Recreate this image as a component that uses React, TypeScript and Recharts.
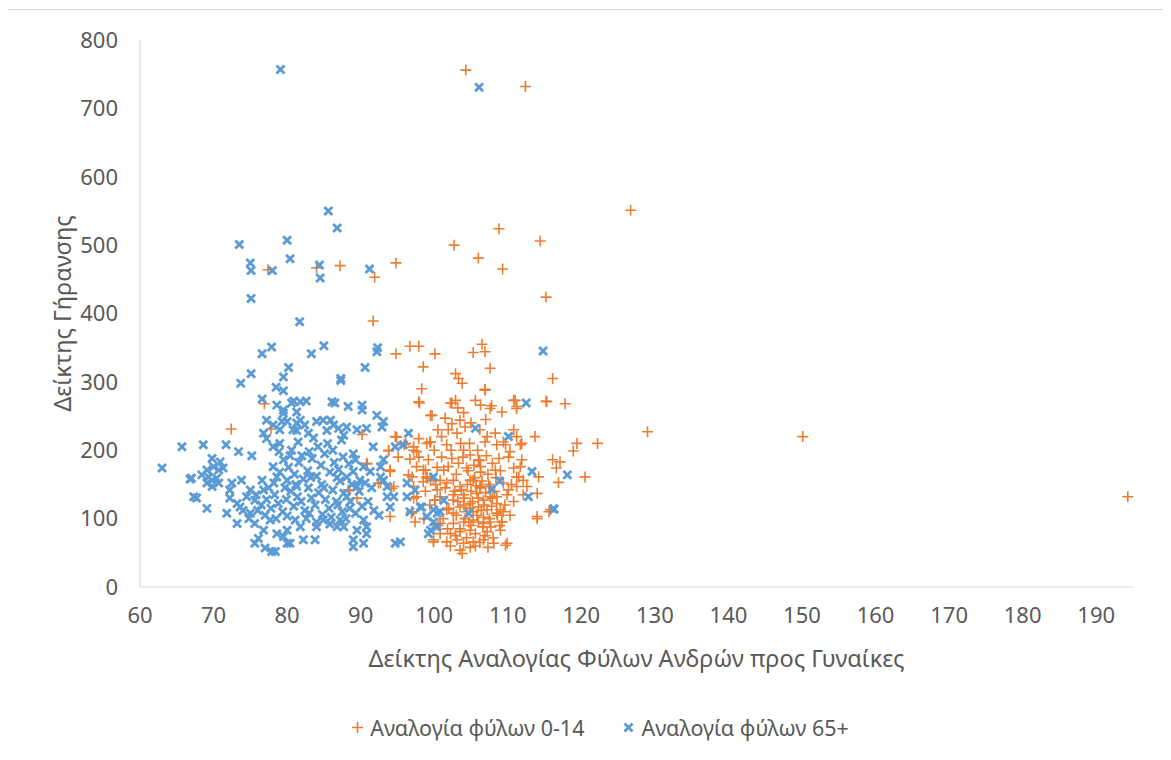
import React from 'react';
import { ScatterChart, Scatter, XAxis, YAxis, Legend, Label } from 'recharts';

// [Δείκτης Αναλογίας Φύλων, Δείκτης Γήρανσης]
const points014: [number, number][] = [
  [104.3,756],[112.4,732],[126.7,551],[108.8,524],[114.4,506],[102.7,500],[106.0,481],[94.8,474],[109.3,465],[115.2,424],
  [77.4,464],[84.0,467],[87.2,470],[91.9,453],[91.7,389],
  [116.1,305],[115.2,272],[117.8,268],[129.0,227],[150.1,220],[119.4,210],[122.2,210],[118.9,199],[116.1,186],[116.6,174],
  [120.5,161],[116.9,153],[115.6,110],[194.3,132],
  [76.9,268],[72.4,231],[77.8,231],[90.2,223],[90.8,181],[88.3,142],[89.5,130],[92.4,152],[94.2,144],[94.9,219],[93.8,199],
  [94.0,169],[96.9,108],[97.4,95],[97.2,130],
  [96.7,352],[97.9,352],[94.8,341],[100.1,341],[106.5,355],[106.9,344],[105.3,343],[98.5,322],[107.6,320],[102.9,312],
  [103.3,305],[103.8,298],[98.3,290],[106.9,288],[97.9,271],[102.2,269],[102.9,273],[105.6,273],[106.3,266],[107.8,265],
  [107.6,261],[109.2,256],[110.8,273],[111.2,264],[99.5,251],
  [113.7,220],[117.1,183],[114.0,100],[115.8,113],[109.7,61],[108.3,225],[109.7,208],[110.8,230],[111.9,210],[108.8,188],
  [111.7,176],[111.2,161],[112.6,147],[114.0,137],[107.6,147],[108.5,132],[109.0,113],[109.2,95],
  [94.7,220],[96.1,210],[93.8,200],[95.1,190],[97.2,200],[97.9,190],[99.0,210],[99.2,186],[97.6,176],[98.5,171],
  [97.0,161],[97.2,147],[97.6,132],[97.0,110],[94.0,171],[94.5,147],[94.0,103],[99.9,69],
  [104.5,150],[105.0,140],[105.5,160],[106.0,130],[106.2,145],[106.5,155],[106.8,120],[107.0,138],[107.3,165],[105.2,125],
  [104.8,115],[105.8,105],[106.4,112],[107.5,100],[104.2,100],[105.0,90],[106.0,95],[106.6,88],[107.8,118],[108.2,140],
  [108.6,105],[104.6,170],[105.4,178],[106.2,185],[107.1,192],[105.9,200],[104.8,210],[103.9,190],[103.0,165],[102.8,140],
  [103.2,125],[102.0,115],[101.2,100],[100.5,90],[101.8,85],[102.9,75],[104.4,72],[105.6,78],[106.9,75],[108.0,72],
  [108.9,90],[109.6,120],[109.0,170],[110.5,150],[103.6,210],[102.3,200],[101.0,190],[100.4,175],[101.5,145],[102.6,135],
  [103.7,142],[104.1,130],[104.9,156],[105.7,148],[106.3,168],[107.4,150],[107.9,130],[108.4,160],[103.0,105],[104.0,120],
  [105.3,110],[106.7,102],[107.7,88],[104.7,95],[103.5,85],[105.6,60],[106.2,65],[104.9,58],[107.3,58],[102.2,60],
  [105.0,240],[106.2,230],[107.0,245],[104.0,255],[103.2,262],[100.5,230],[101.0,220],[100.0,200],[98.8,140],[99.4,120],
  [98.6,100],[100.2,150],
  [106.9,289],[102.4,269],[111.0,273],[111.2,261],[115.3,271],[99.7,251],[101.5,247],[102.4,239],[103.5,244],[104.2,234],
  [101.9,230],[103.1,225],[107.2,220],[106.9,212],[108.5,208],[111.2,220],[109.4,212],[111.7,208],[99.5,212],[101.7,208],
  [104.0,200],[104.9,193],[110.3,198],[110.1,190],[111.9,186],[102.4,188],[103.3,181],[101.9,176],[101.3,171],[106.0,186],
  [106.3,176],[104.4,174],[107.9,181],[108.3,171],[110.8,174],[111.5,161],[112.1,156],[114.2,161],[99.0,161],[99.5,156],
  [98.5,154],[100.8,156],[101.7,152],[102.6,156],[103.5,147],[105.3,156],[106.3,147],[109.4,152],[110.1,142],[111.2,147],
  [109.9,135],[110.8,125],[100.8,132],[100.1,127],[102.6,127],[104.0,135],[104.9,122],[105.8,137],[106.7,127],[107.6,132],
  [108.5,122],[106.0,117],[107.2,113],[103.5,117],[104.4,110],[102.6,108],[101.7,113],[108.5,108],[109.4,110],[110.3,105],
  [102.6,93],[104.0,95],[105.3,98],[106.7,93],[107.6,95],[109.2,95],[100.8,93],[100.8,78],[99.9,66],[102.2,78],
  [103.5,81],[104.9,83],[107.2,81],[109.0,83],[101.7,66],[103.1,69],[104.0,64],[105.3,66],[106.7,69],[108.1,64],
  [103.5,54],[103.8,49],[109.9,64],[114.0,103],[112.1,135],
  [98.0,269],[95.9,208],[97.2,205],[97.9,217],[99.4,212],[96.7,187],[97.6,198],[90.9,180],[96.5,164],[98.8,171],
  [92.7,152],[88.5,141],[97.0,110],[99.9,156],[100.4,142],[100.1,127],[99.0,159],
];

const points65: [number, number][] = [
  [79.1,757],[106.1,731],[85.6,550],[86.8,525],[73.5,501],[80.0,507],[80.4,480],[75.0,474],[75.1,463],[78.0,463],
  [84.4,471],[84.5,452],[91.2,465],[75.1,422],[81.7,388],
  [114.8,345],[77.9,351],[76.6,341],[83.3,341],[85.0,353],[92.3,350],[92.2,344],[80.2,321],[90.6,321],[75.1,312],
  [79.5,307],[87.3,305],[73.7,298],[78.5,292],[79.5,287],[87.3,302],
  [76.6,275],[78.6,266],[79.5,259],[80.6,269],[81.3,256],[80.9,272],[81.8,271],[82.6,272],[86.1,271],[86.5,269],
  [88.3,264],[90.2,266],[90.2,259],[112.5,269],
  [79.5,254],[79.3,242],[77.2,244],[76.8,225],[77.2,217],[78.1,237],[79.0,230],[80.0,242],[80.8,230],[81.3,240],
  [81.8,244],[82.4,237],[81.3,229],[82.9,225],[84.0,242],[84.9,244],[85.9,244],[86.3,237],[85.4,229],[87.0,232],
  [87.7,222],[87.4,215],[88.1,234],[89.5,230],[90.8,232],[92.2,251],[93.1,242],[92.9,234],[96.5,225],[105.6,232],[110.1,220],
  [65.7,205],[68.6,208],[71.7,208],[73.4,198],[75.2,192],[78.1,205],[79.0,210],[91.7,205],[94.7,205],[89.0,195],
  [89.3,186],[93.1,186],[95.8,208],
  [63.0,174],[69.8,188],[70.9,183],[70.0,176],[69.1,171],[70.7,171],[71.3,174],[67.0,159],[68.4,164],[69.3,161],
  [69.8,156],[70.4,159],[69.8,147],[70.7,152],[69.1,152],[66.8,158],
  [67.3,132],[67.7,130],[69.1,115],[72.5,152],[72.2,142],[73.8,156],[75.0,142],[71.8,108],[73.2,93],[72.2,130],
  [73.2,122],[73.6,117],[74.5,132],[75.6,127],[76.6,156],[75.0,108],
  [78.6,161],[80.0,156],[81.3,147],[78.1,176],[79.5,186],
  [75.6,93],[76.8,83],[76.1,71],[75.6,64],[77.7,98],[78.6,78],[80.0,83],[81.1,98],[77.0,57],[77.9,52],
  [78.4,52],[80.0,64],[79.5,74],
  [88.1,161],[89.0,169],[89.9,156],[89.5,147],[87.7,137],[88.1,132],[88.6,125],[90.4,176],[91.3,169],[90.6,152],
  [92.7,176],[92.7,161],[93.1,156],[93.6,147],[94.5,132],[93.6,132],[94.0,117],[96.3,152],[96.3,132],[97.4,142],
  [96.7,110],[98.1,117],[99.0,103],[100.4,108],
  [90.4,98],[90.8,88],[89.5,83],[90.8,78],[89.0,69],[90.4,64],[89.0,59],[87.2,98],[87.7,88],[86.8,88],
  [81.8,88],[80.4,64],[82.2,69],[83.8,69],[84.0,88],[84.9,98],[94.7,64],[95.4,66],[99.2,78],[100.4,88],
  [113.3,169],[99.9,161],[108.9,155],[107.8,143],[112.8,132],[116.2,114],[101.3,127],[99.9,113],[100.8,110],[104.7,108],
  [99.9,95],[99.5,83],[98.3,117],[118.1,164],[116.3,114],
  [76.5,120],[77.2,128],[77.8,115],[78.3,135],[78.8,122],[79.4,110],[79.9,128],[80.5,140],[80.9,118],[81.4,132],
  [81.9,125],[82.4,112],[82.9,145],[83.3,130],[83.8,120],[84.3,138],[84.7,150],[85.2,128],[85.7,115],[86.2,142],
  [86.7,125],[87.2,155],[77.5,145],[78.2,152],[79.0,168],[80.2,175],[81.0,165],[81.6,182],[82.2,158],[82.8,170],
  [83.4,188],[84.0,162],[84.6,178],[85.1,195],[85.8,168],[86.4,182],[87.0,172],[87.6,190],[88.4,180],[83.0,198],
  [82.0,192],[84.2,205],[85.5,210],[86.2,200],[80.6,200],[81.5,212],[83.6,218],[76.0,112],[77.0,105],[78.5,100],
  [80.0,104],[82.6,100],[84.8,106],[86.0,102],[87.5,110],[88.5,115],[89.3,108],[90.2,118],[91.0,125],[91.8,112],
  [92.5,105],[89.8,140],[91.5,145],[74.8,100],[74.0,112],[79.7,145],[81.2,150],[83.2,160],[85.0,145],[86.8,160],
  [88.8,150],[75.8,135],[76.8,142],[80.4,192],[78.9,198],[86.9,120],[84.0,95],[85.8,92],[83.0,108],[88.0,100],
];

const xTicks = [60, 70, 80, 90, 100, 110, 120, 130, 140, 150, 160, 170, 180, 190];
const yTicks = [0, 100, 200, 300, 400, 500, 600, 700, 800];

const seriesNames = ['Αναλογία φύλων 0-14', 'Αναλογία φύλων 65+'];
const xTitle = 'Δείκτης Αναλογίας Φύλων Ανδρών προς Γυναίκες';
const yTitle = 'Δείκτης Γήρανσης';

const ORANGE = '#ED7D31';
const BLUE = '#5B9BD5';
const TEXT = '#595959';
const FONT = '"Noto Sans", sans-serif';

const data014 = points014.map(([x, y]) => ({ x, y }));
const data65 = points65.map(([x, y]) => ({ x, y }));

const PlusShape = (props: any) => {
  const { cx, cy } = props;
  if (cx == null || cy == null) return null;
  return (
    <path
      d={`M${cx - 5.5},${cy}H${cx + 5.5}M${cx},${cy - 5.5}V${cy + 5.5}`}
      stroke={ORANGE}
      strokeWidth={1.6}
      fill="none"
    />
  );
};

const CrossShape = (props: any) => {
  const { cx, cy } = props;
  if (cx == null || cy == null) return null;
  const r = 4;
  return (
    <path
      d={`M${cx - r},${cy - r}L${cx + r},${cy + r}M${cx - r},${cy + r}L${cx + r},${cy - r}`}
      stroke={BLUE}
      strokeWidth={2.8}
      fill="none"
    />
  );
};

const LegendContent = () => (
  <div
    style={{
      display: 'flex',
      justifyContent: 'center',
      alignItems: 'center',
      height: 30,
      fontFamily: FONT,
      fontSize: 21.5,
      color: TEXT,
      transform: 'translateX(12px)',
      whiteSpace: 'nowrap',
    }}
  >
    <span style={{ display: 'flex', alignItems: 'center', marginRight: 38 }}>
      <svg width={13} height={13} style={{ marginRight: 6 }}>
        <path d="M1,6.5H12M6.5,1V12" stroke={ORANGE} strokeWidth={1.6} />
      </svg>
      {seriesNames[0]}
    </span>
    <span style={{ display: 'flex', alignItems: 'center' }}>
      <svg width={13} height={13} style={{ marginRight: 6 }}>
        <path d="M2.5,2.5L10.5,10.5M2.5,10.5L10.5,2.5" stroke={BLUE} strokeWidth={2.8} />
      </svg>
      {seriesNames[1]}
    </span>
  </div>
);

const YTitle = (props: any) => {
  const vb = props.viewBox || { x: 0, y: 30, width: 132, height: 547 };
  const cx = 54;
  const cy = vb.y + vb.height / 2;
  return (
    <text
      x={cx}
      y={cy}
      transform={`rotate(-90 ${cx} ${cy})`}
      textAnchor="middle"
      dominantBaseline="central"
      fill={TEXT}
      fontFamily={FONT}
      fontSize={23.5}
    >
      {yTitle}
    </text>
  );
};

const XTitle = (props: any) => {
  const vb = props.viewBox || { x: 132, y: 577, width: 993, height: 125 };
  const cx = vb.x + vb.width / 2;
  const cy = vb.y + 71;
  return (
    <text
      x={cx}
      y={cy}
      textAnchor="middle"
      dominantBaseline="central"
      fill={TEXT}
      fontFamily={FONT}
      fontSize={23.5}
    >
      {xTitle}
    </text>
  );
};

const tickStyle = { fill: TEXT, fontSize: 22, fontFamily: FONT };

export default function App() {
  return (
    <div
      style={{
        marginTop: 1,
        marginLeft: -1,
        width: 1170,
        height: 760,
        border: '1px solid #d9d9d9',
        boxSizing: 'border-box',
        background: '#fff',
      }}
    >
      <style>{'body{overflow:hidden}'}</style>
      <ScatterChart width={1160} height={748} margin={{ top: 30, right: 35, left: 0, bottom: 16 }}>
        <XAxis
          type="number"
          dataKey="x"
          domain={[60, 195]}
          ticks={xTicks}
          interval={0}
          axisLine={{ stroke: '#d9d9d9', strokeWidth: 1.2 }}
          tickLine={false}
          tickSize={0}
          tickMargin={20}
          tick={tickStyle}
          height={125}
        >
          <Label content={<XTitle />} />
        </XAxis>
        <YAxis
          type="number"
          dataKey="y"
          domain={[0, 800]}
          ticks={yTicks}
          interval={0}
          axisLine={{ stroke: '#d9d9d9', strokeWidth: 1.2 }}
          tickLine={false}
          tickSize={0}
          tickMargin={22}
          tick={tickStyle}
          width={132}
        >
          <Label content={<YTitle />} />
        </YAxis>
        <Legend verticalAlign="bottom" height={30} content={<LegendContent />} wrapperStyle={{ left: 0, width: 1160 }} />
        <Scatter name={seriesNames[0]} data={data014} shape={<PlusShape />} isAnimationActive={false} />
        <Scatter name={seriesNames[1]} data={data65} shape={<CrossShape />} isAnimationActive={false} />
      </ScatterChart>
    </div>
  );
}
